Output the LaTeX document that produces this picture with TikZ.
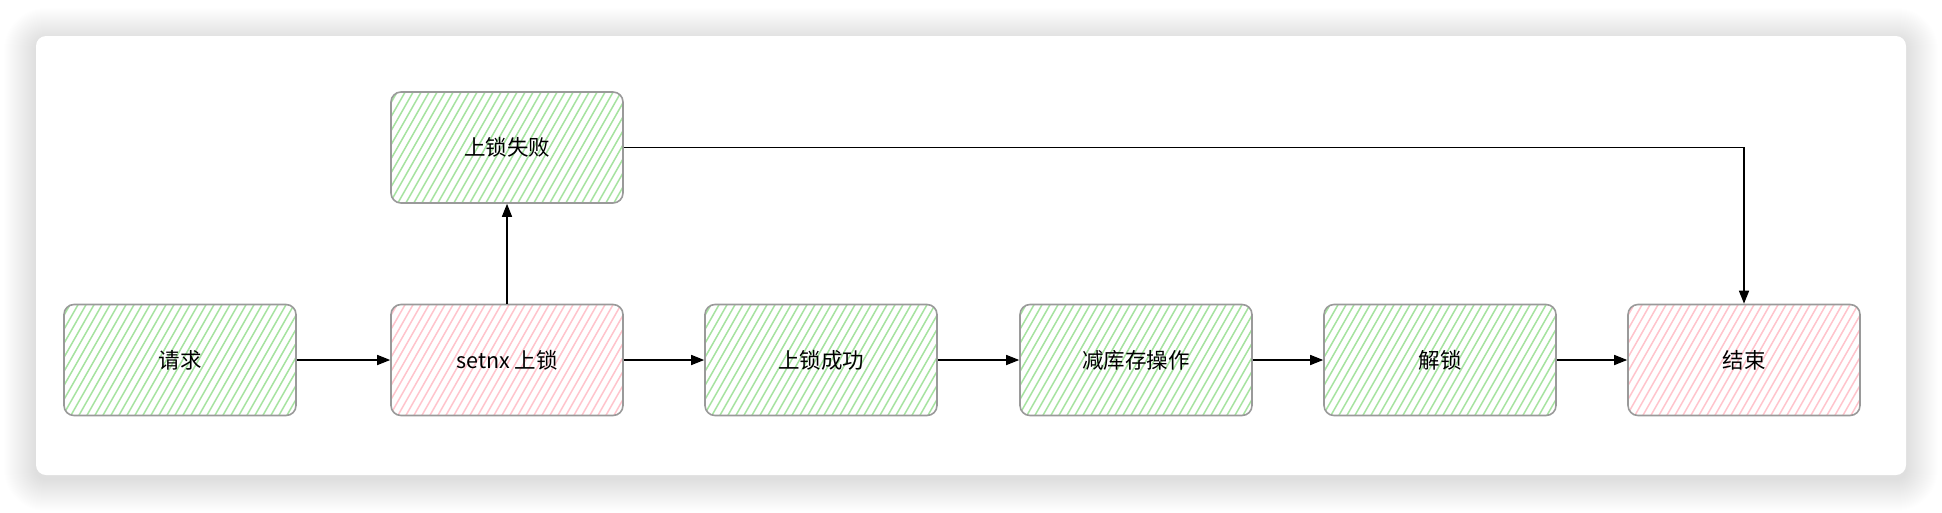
\documentclass[tikz,border=0pt]{standalone}
\usepackage{fontspec}
\setmainfont{Noto Sans CJK SC}
\usetikzlibrary{arrows.meta}
\definecolor{hgreen}{HTML}{A6E3A0}
\definecolor{hpink}{HTML}{FFC4CC}
\definecolor{bordergray}{HTML}{9A9A9A}
\tikzset{
  box/.style={draw=bordergray, line width=1.6pt, rounded corners=10pt, minimum width=232pt, minimum height=111pt, inner sep=0pt, font=\fontsize{21.5}{26}\selectfont},
  conn/.style={line width=1.5pt, -{Triangle[length=13pt,width=10pt]}},
  hatchline/.style={line width=1.5pt, line cap=round}
}
\newcommand{\hatchbox}[3]{%
  \begin{scope}
    \clip[rounded corners=10pt] ({#1-116},{#2-55.5}) rectangle ({#1+116},{#2+55.5});
    \foreach \k in {0,...,38} {
      \draw[hatchline, #3] ({#1-182+\k*8},{#2+57}) -- ({#1-117+\k*8},{#2-57});
    }
  \end{scope}}
\begin{document}
\begin{tikzpicture}[x=1pt,y=-1pt]
  \useasboundingbox (0,0) rectangle (1942,512);
  \fill[white] (0,0) rectangle (1942,512);
  % card shadow
  \foreach \s in {1,...,32} {
    \fill[black, opacity=0.0045, rounded corners={10+\s}] ({36-\s},{40-\s}) rectangle ({1906+\s},{479+\s});
  }
  \fill[white, rounded corners=10pt] (36,36) rectangle (1906,475);
  % hatching
  \hatchbox{180}{360}{hgreen}
  \hatchbox{507}{360}{hpink}
  \hatchbox{507}{147.5}{hgreen}
  \hatchbox{821}{360}{hgreen}
  \hatchbox{1136}{360}{hgreen}
  \hatchbox{1440}{360}{hgreen}
  \hatchbox{1744}{360}{hpink}
  % nodes
  \node[box] (req) at (180,360) {请求};
  \node[box] (setnx) at (507,360) {setnx 上锁};
  \node[box] (fail) at (507,147.5) {上锁失败};
  \node[box] (ok) at (821,360) {上锁成功};
  \node[box] (dec) at (1136,360) {减库存操作};
  \node[box] (unlock) at (1440,360) {解锁};
  \node[box] (end) at (1744,360) {结束};
  % connectors
  \draw[conn] (req) -- (setnx);
  \draw[conn] (setnx) -- (ok);
  \draw[conn] (ok) -- (dec);
  \draw[conn] (dec) -- (unlock);
  \draw[conn] (unlock) -- (end);
  \draw[conn] (setnx) -- (fail);
  \draw[conn] (fail.east) -| (end.north);
\end{tikzpicture}
\end{document}
